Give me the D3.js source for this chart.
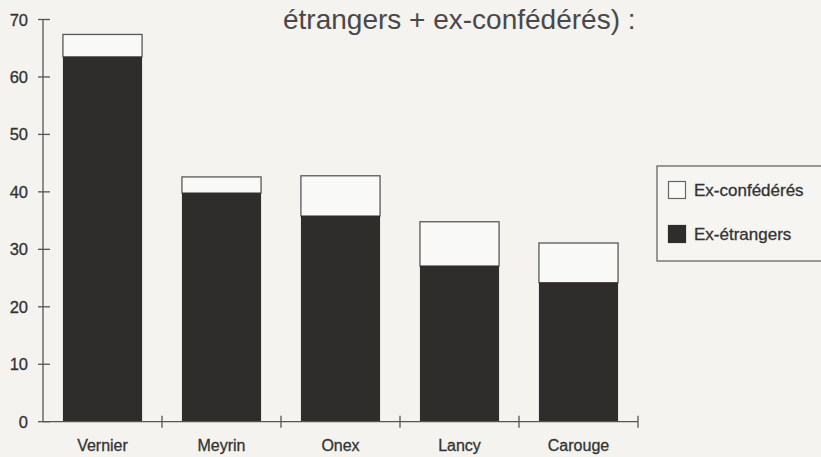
<!DOCTYPE html>
<html><head><meta charset="utf-8">
<script src="https://cdn.jsdelivr.net/npm/d3@7"></script>
<style>html,body{margin:0;padding:0;background:#f4f3ef;}svg{display:block;}</style>
</head><body>
<svg id="c" width="821" height="457"></svg>
<script>
const categories = ["Vernier","Meyrin","Onex","Lancy","Carouge"];
const exEtrangers = [63.5, 39.8, 35.8, 27.1, 24.2];
const exConfederes = [3.9, 2.8, 7.0, 7.7, 6.9];
const yTicks = [0,10,20,30,40,50,60,70];
const seriesNames = ["Ex-confédérés","Ex-étrangers"];
const titleText = "étrangers + ex-confédérés) :";

const svg = d3.select("#c");
const font = "Liberation Sans, Arial, Helvetica, sans-serif";
const x0 = 43, x1 = 638, yBase = 421.7, yTop = 19.5;
const x = d3.scaleBand().domain(categories).range([x0, x1]).paddingInner(0.335).paddingOuter(0.1675);
const y = d3.scaleLinear().domain([0,70]).range([yBase, yTop]);
const axisCol = "#555";
const txtCol = "#333";

svg.append("rect").attr("width",821).attr("height",457).attr("fill","#f4f3ef");

// title
svg.append("text").attr("x",283).attr("y",29).attr("font-family",font).attr("font-size",28)
  .attr("fill","#4a4848").text(titleText);

// bars
const data = categories.map((c,i)=>({c, a:exEtrangers[i], b:exConfederes[i]}));
const g = svg.append("g");
g.selectAll("rect.top").data(data).join("rect")
  .attr("x",d=>x(d.c)).attr("width",x.bandwidth())
  .attr("y",d=>y(d.a+d.b)).attr("height",d=>y(d.a)-y(d.a+d.b))
  .attr("fill","#f9f9f7").attr("stroke","#5a5858").attr("stroke-width",1.3);
g.selectAll("rect.bot").data(data).join("rect")
  .attr("x",d=>x(d.c)).attr("width",x.bandwidth())
  .attr("y",d=>y(d.a)).attr("height",d=>yBase-y(d.a))
  .attr("fill","#2f2c2c");

// y axis
const ya = svg.append("g");
ya.append("line").attr("x1",x0).attr("x2",x0).attr("y1",y(70)).attr("y2",yBase).attr("stroke",axisCol).attr("stroke-width",1.3);
ya.selectAll("line.t").data(yTicks).join("line").attr("x1",x0-5).attr("x2",x0+7)
  .attr("y1",d=>y(d)).attr("y2",d=>y(d)).attr("stroke",axisCol).attr("stroke-width",1.3);
ya.selectAll("text").data(yTicks).join("text").attr("x",28).attr("y",d=>y(d)+6)
  .attr("text-anchor","end").attr("font-family",font).attr("font-size",16.5).attr("fill",txtCol)
  .attr("stroke",txtCol).attr("stroke-width",0.3).text(d=>d);

// x axis
const xa = svg.append("g");
xa.append("line").attr("x1",x0).attr("x2",x1).attr("y1",yBase).attr("y2",yBase).attr("stroke",axisCol).attr("stroke-width",1.3);
const bounds = categories.map(c=>x(c)+x.bandwidth()+x.step()*x.paddingInner()/2);
xa.selectAll("line.t").data(bounds).join("line").attr("x1",d=>d).attr("x2",d=>d)
  .attr("y1",yBase-6).attr("y2",yBase+6).attr("stroke",axisCol).attr("stroke-width",1.3);
xa.selectAll("text").data(categories).join("text").attr("x",d=>x(d)+x.bandwidth()/2).attr("y",451)
  .attr("text-anchor","middle").attr("font-family",font).attr("font-size",16).attr("fill",txtCol)
  .attr("stroke",txtCol).attr("stroke-width",0.3).text(d=>d);

// legend
const lg = svg.append("g");
lg.append("rect").attr("x",657).attr("y",166).attr("width",170).attr("height",95)
  .attr("fill","#f6f5f2").attr("stroke","#666").attr("stroke-width",1.3);
const lfill = ["#f9f9f7","#2f2c2c"];
const lys = [190, 234];
seriesNames.forEach((n,i)=>{
  lg.append("rect").attr("x",668.5).attr("y",lys[i]-8.5).attr("width",17).attr("height",17)
    .attr("fill",lfill[i]).attr("stroke",i===0?"#666":"#2f2c2c").attr("stroke-width",1.2);
  lg.append("text").attr("x",694).attr("y",lys[i]+6).attr("font-family",font).attr("font-size",17)
    .attr("fill",txtCol).attr("stroke",txtCol).attr("stroke-width",0.3).text(n);
});
</script>
</body></html>
